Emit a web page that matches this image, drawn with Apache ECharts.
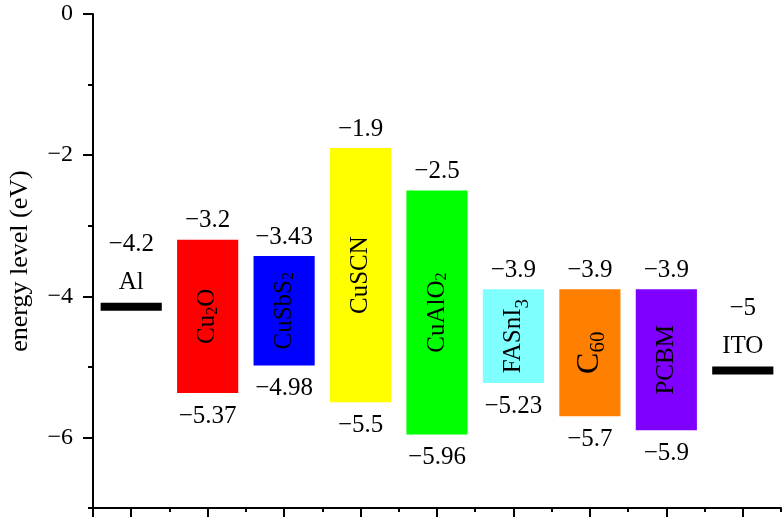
<!DOCTYPE html>
<html>
<head>
<meta charset="utf-8">
<script src="https://cdn.jsdelivr.net/npm/echarts@6/dist/echarts.min.js"></script>
<style>
  html, body { margin: 0; padding: 0; background: #fff; }
  #chart { width: 782px; height: 518px; }
</style>
</head>
<body>
<div id="chart"></div>
<script>
// ---- data ----
const materialNames = ['Cu{s|2}O', 'CuSbS{s|2}', 'CuSCN', 'CuAlO{s|2}', 'FASnI{t|3}', '{C|C}{u|60}', 'PCBM'];
const materialPos = [2, 3, 4, 5, 6, 7, 8];
const cbm = [-3.2, -3.43, -1.9, -2.5, -3.9, -3.9, -3.9];     // top of each bar
const vbm = [-5.37, -4.98, -5.5, -5.96, -5.23, -5.7, -5.9];  // bottom of each bar
const barColors = ['#ff0000', '#0000ff', '#ffff00', '#00ff00', '#80ffff', '#ff8000', '#8000ff'];

const electrodeNames = ['Al', 'ITO'];
const electrodePos = [1, 9];
const electrodeLevel = [-4.15, -5.05];   // drawn position of the thick line
const electrodeValue = [-4.2, -5];       // printed work function

const yMajorTicks = [0, -2, -4, -6];
const yMinorTicks = [-1, -3, -5, -7];
const xMajorTicks = [0.5, 1, 2, 3, 4, 5, 6, 7, 8, 9];
const xMinorTicks = [1.5, 2.5, 3.5, 4.5, 5.5, 6.5, 7.5, 8.5, 9.5];

const FONT = '"Liberation Serif", "DejaVu Serif", serif';
const fmt = v => String(v).replace('-', '\u2212');

const barData = materialPos.map((x, i) => [x, cbm[i], vbm[i]]);
const electrodeData = electrodePos.map((x, i) => [x, electrodeLevel[i], electrodeValue[i]]);

function renderBar(params, api) {
  const i = params.dataIndex;
  const x = api.value(0), top = api.value(1), bot = api.value(2);
  const p1 = api.coord([x, top]);
  const p2 = api.coord([x, bot]);
  const w = api.size([0.8, 0])[0];
  return {
    type: 'group',
    children: [
      { type: 'rect', shape: { x: p1[0] - w / 2, y: p1[1], width: w, height: p2[1] - p1[1] },
        style: { fill: barColors[i] } },
      { type: 'text', x: p1[0], y: p1[1] - 19,
        style: { text: fmt(top), fontFamily: FONT, fontSize: 25, fill: '#000', align: 'center', verticalAlign: 'middle' } },
      { type: 'text', x: p1[0], y: p2[1] + 23,
        style: { text: fmt(bot), fontFamily: FONT, fontSize: 25, fill: '#000', align: 'center', verticalAlign: 'middle' } },
      { type: 'text', x: p1[0], y: (p1[1] + p2[1]) / 2, rotation: Math.PI / 2,
        style: {
          text: materialNames[i], fontFamily: FONT, fontSize: 25, lineHeight: 30, fill: '#000',
          align: 'center', verticalAlign: 'middle',
          rich: {
            s: { fontFamily: FONT, fontSize: 16, lineHeight: 30, padding: [10, 0, 0, 0] },
            t: { fontFamily: FONT, fontSize: 19, lineHeight: 30, padding: [20, 0, 0, 0] },
            C: { fontFamily: FONT, fontSize: 32, lineHeight: 30 },
            u: { fontFamily: FONT, fontSize: 21, lineHeight: 30, padding: [17, 0, 0, 0] }
          }
        } }
    ]
  };
}

function renderElectrode(params, api) {
  const i = params.dataIndex;
  const x = api.value(0), lvl = api.value(1), val = api.value(2);
  const p = api.coord([x, lvl]);
  const w = api.size([0.8, 0])[0];
  return {
    type: 'group',
    children: [
      { type: 'rect', shape: { x: p[0] - w / 2, y: p[1] - 4, width: w, height: 8 }, style: { fill: '#000' } },
      { type: 'text', x: p[0], y: p[1] - 24,
        style: { text: electrodeNames[i], fontFamily: FONT, fontSize: 25, fill: '#000', align: 'center', verticalAlign: 'middle' } },
      { type: 'text', x: p[0], y: p[1] - 62,
        style: { text: fmt(val), fontFamily: FONT, fontSize: 25, fill: '#000', align: 'center', verticalAlign: 'middle' } }
    ]
  };
}

const axisLineStyle = { color: '#000', width: 2 };

const option = {
  animation: false,
  backgroundColor: '#fff',
  grid: { left: 93, right: 1, top: 14, bottom: 10, containLabel: false, outerBoundsMode: 'none' },
  xAxis: [
    { type: 'value', min: 0.5, max: 9.5, position: 'bottom',
      axisLine: { show: true, onZero: false, lineStyle: axisLineStyle },
      axisTick: { show: true, inside: false, length: 9, customValues: xMajorTicks, lineStyle: axisLineStyle },
      axisLabel: { show: false }, splitLine: { show: false } },
    { type: 'value', min: 0.5, max: 9.5, position: 'bottom',
      axisLine: { show: false, onZero: false },
      axisTick: { show: true, inside: false, length: 4, customValues: xMinorTicks, lineStyle: axisLineStyle },
      axisLabel: { show: false }, splitLine: { show: false } }
  ],
  yAxis: [
    { type: 'value', min: -7, max: 0, position: 'left',
      name: 'energy level (eV)', nameLocation: 'middle', nameGap: 60,
      nameTextStyle: { fontFamily: FONT, fontSize: 26, color: '#000' },
      axisLine: { show: true, onZero: false, lineStyle: axisLineStyle },
      axisTick: { show: true, inside: false, length: 10, customValues: yMajorTicks, lineStyle: axisLineStyle },
      axisLabel: { show: true, customValues: yMajorTicks, margin: 20, fontFamily: FONT, fontSize: 24, color: '#000',
                   formatter: v => fmt(v) },
      splitLine: { show: false } },
    { type: 'value', min: -7, max: 0, position: 'left',
      axisLine: { show: false, onZero: false },
      axisTick: { show: true, inside: false, length: 5, customValues: yMinorTicks, lineStyle: axisLineStyle },
      axisLabel: { show: false }, splitLine: { show: false } }
  ],
  series: [
    { type: 'custom', xAxisIndex: 0, yAxisIndex: 0, renderItem: renderBar, data: barData, clip: false },
    { type: 'custom', xAxisIndex: 0, yAxisIndex: 0, renderItem: renderElectrode, data: electrodeData, clip: false }
  ]
};

const chart = echarts.init(document.getElementById('chart'), null, { renderer: 'canvas' });
chart.setOption(option);
</script>
</body>
</html>
